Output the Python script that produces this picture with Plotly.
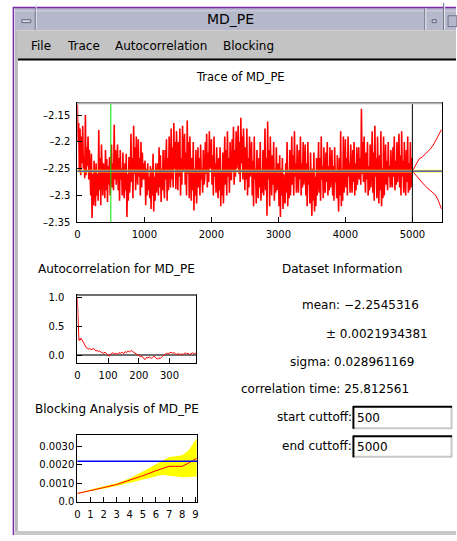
import plotly.graph_objects as go

W, H = 457, 541

# ---------------- data ----------------
dataset_name = "MD_PE"
mean_val = -2.2545316
err_val = 0.0021934381
sigma_val = 0.028961169
corr_time = 25.812561
start_cutoff = 500
end_cutoff = 5000

trace_step = 10
trace_values = [
    -2.130, -2.200, -2.165, -2.255, -2.175, -2.262, -2.190, -2.240, -2.170, -2.250,
    -2.230, -2.268, -2.150, -2.262, -2.210, -2.245, -2.190, -2.270, -2.215, -2.250,
    -2.300, -2.222, -2.342, -2.260, -2.318, -2.235, -2.290, -2.320, -2.240, -2.300,
    -2.260, -2.310, -2.178, -2.290, -2.230, -2.318, -2.205, -2.270, -2.300, -2.240,
    -2.250, -2.305, -2.215, -2.290, -2.232, -2.312, -2.245, -2.280, -2.228, -2.300,
    -2.260, -2.205, -2.285, -2.240, -2.290, -2.168, -2.270, -2.215, -2.280, -2.250,
    -2.205, -2.290, -2.230, -2.310, -2.215, -2.270, -2.250, -2.300, -2.220, -2.285,
    -2.305, -2.240, -2.290, -2.222, -2.340, -2.260, -2.310, -2.228, -2.295, -2.270,
    -2.185, -2.275, -2.230, -2.305, -2.170, -2.260, -2.210, -2.290, -2.190, -2.250,
    -2.280, -2.195, -2.265, -2.230, -2.300, -2.200, -2.285, -2.220, -2.270, -2.240,
    -2.270, -2.235, -2.318, -2.250, -2.300, -2.240, -2.290, -2.265, -2.305, -2.245,
    -2.325, -2.250, -2.300, -2.222, -2.330, -2.265, -2.310, -2.240, -2.295, -2.270,
    -2.240, -2.300, -2.210, -2.285, -2.225, -2.312, -2.250, -2.290, -2.215, -2.280,
    -2.305, -2.215, -2.270, -2.195, -2.310, -2.230, -2.290, -2.190, -2.260, -2.285,
    -2.175, -2.270, -2.210, -2.285, -2.165, -2.250, -2.200, -2.288, -2.180, -2.240,
    -2.290, -2.200, -2.265, -2.175, -2.300, -2.230, -2.280, -2.170, -2.255, -2.220,
    -2.185, -2.280, -2.220, -2.300, -2.160, -2.260, -2.200, -2.305, -2.190, -2.250,
    -2.310, -2.230, -2.290, -2.200, -2.328, -2.250, -2.300, -2.215, -2.315, -2.260,
    -2.210, -2.285, -2.230, -2.300, -2.205, -2.270, -2.250, -2.295, -2.215, -2.280,
    -2.270, -2.200, -2.260, -2.185, -2.285, -2.220, -2.275, -2.180, -2.250, -2.230,
    -2.195, -2.280, -2.225, -2.300, -2.190, -2.265, -2.240, -2.295, -2.210, -2.270,
    -2.305, -2.230, -2.290, -2.210, -2.320, -2.255, -2.300, -2.220, -2.315, -2.260,
    -2.190, -2.280, -2.215, -2.300, -2.180, -2.265, -2.230, -2.295, -2.200, -2.270,
    -2.270, -2.195, -2.255, -2.172, -2.280, -2.215, -2.265, -2.180, -2.250, -2.225,
    -2.170, -2.260, -2.200, -2.275, -2.155, -2.240, -2.190, -2.270, -2.175, -2.230,
    -2.290, -2.210, -2.270, -2.175, -2.300, -2.230, -2.285, -2.190, -2.265, -2.240,
    -2.200, -2.300, -2.235, -2.320, -2.190, -2.270, -2.250, -2.315, -2.215, -2.285,
    -2.305, -2.230, -2.285, -2.200, -2.310, -2.255, -2.295, -2.215, -2.300, -2.260,
    -2.175, -2.290, -2.230, -2.338, -2.162, -2.270, -2.215, -2.320, -2.190, -2.260,
    -2.300, -2.225, -2.280, -2.200, -2.310, -2.250, -2.295, -2.210, -2.290, -2.245,
    -2.240, -2.320, -2.225, -2.340, -2.250, -2.300, -2.230, -2.325, -2.260, -2.305,
    -2.315, -2.240, -2.295, -2.200, -2.320, -2.255, -2.305, -2.215, -2.300, -2.260,
    -2.190, -2.280, -2.225, -2.300, -2.180, -2.265, -2.240, -2.295, -2.205, -2.270,
    -2.295, -2.215, -2.270, -2.190, -2.300, -2.240, -2.285, -2.200, -2.280, -2.245,
    -2.205, -2.300, -2.240, -2.320, -2.200, -2.280, -2.255, -2.315, -2.220, -2.290,
    -2.338, -2.250, -2.310, -2.220, -2.330, -2.265, -2.320, -2.230, -2.300, -2.270,
    -2.200, -2.295, -2.230, -2.310, -2.190, -2.270, -2.245, -2.305, -2.210, -2.280,
    -2.295, -2.220, -2.275, -2.200, -2.300, -2.245, -2.290, -2.210, -2.285, -2.250,
    -2.215, -2.300, -2.245, -2.310, -2.210, -2.275, -2.255, -2.305, -2.225, -2.290,
    -2.330, -2.230, -2.300, -2.180, -2.320, -2.250, -2.310, -2.190, -2.295, -2.260,
    -2.195, -2.285, -2.230, -2.300, -2.190, -2.265, -2.240, -2.295, -2.205, -2.270,
    -2.295, -2.215, -2.275, -2.200, -2.300, -2.240, -2.290, -2.210, -2.280, -2.250,
    -2.210, -2.270, -2.230, -2.280, -2.138, -2.260, -2.200, -2.275, -2.190, -2.250,
    -2.295, -2.220, -2.270, -2.200, -2.300, -2.245, -2.290, -2.205, -2.285, -2.250,
    -2.180, -2.295, -2.220, -2.310, -2.170, -2.265, -2.230, -2.305, -2.190, -2.270,
    -2.315, -2.225, -2.290, -2.180, -2.320, -2.250, -2.305, -2.190, -2.300, -2.255,
    -2.205, -2.280, -2.235, -2.290, -2.200, -2.265, -2.245, -2.285, -2.215, -2.270,
    -2.285, -2.210, -2.265, -2.190, -2.290, -2.235, -2.280, -2.200, -2.275, -2.240,
    -2.185, -2.285, -2.225, -2.300, -2.180, -2.265, -2.235, -2.295, -2.200, -2.270,
    -2.300, -2.215, -2.275, -2.190, -2.295, -2.240, -2.290, -2.200, -2.285, -2.235,
    -2.230,
]
trace_x = [i * trace_step for i in range(len(trace_values))]

funnel_upper_x = [5000, 5010, 5074, 5099, 5148, 5207, 5271, 5320, 5370, 5404, 5434]
funnel_upper_y = [-2.2545, -2.252, -2.238, -2.232, -2.228, -2.221, -2.213, -2.204, -2.192, -2.186, -2.177]
funnel_lower_x = [5000, 5010, 5074, 5123, 5197, 5271, 5345, 5385, 5434]
funnel_lower_y = [-2.2545, -2.256, -2.266, -2.274, -2.283, -2.291, -2.299, -2.309, -2.325]

acf_lag = [0, 1, 2, 3, 4, 5, 6, 8, 10, 12, 14, 16, 18, 20, 22, 24, 27, 30, 33, 36,
           40, 44, 48, 52, 56, 60, 64, 68, 72, 76, 80, 85, 90, 95, 100, 105, 110, 115,
           120, 125, 130, 135, 140, 145, 150, 155, 160, 165, 170, 175, 180, 185, 190,
           195, 200, 205, 210, 215, 220, 225, 230, 235, 240, 245, 250, 255, 260, 265,
           270, 275, 280, 285, 290, 295, 300, 305, 310, 315, 320, 325, 330, 335, 340,
           345, 350, 355, 360, 365, 370, 375, 380, 385]
acf_val = [1.0, 0.72, 0.55, 0.42, 0.33, 0.27, 0.25, 0.28, 0.26, 0.29, 0.27, 0.25, 0.22, 0.20,
           0.19, 0.16, 0.13, 0.12, 0.12, 0.10, 0.11, 0.10, 0.09, 0.12, 0.10, 0.07, 0.08, 0.06,
           0.07, 0.05, 0.04, 0.03, 0.05, 0.02, 0.0, -0.02, 0.02, 0.04, 0.02, 0.03, 0.01, 0.04,
           0.03, 0.05, 0.02, 0.06, 0.04, 0.07, 0.05, 0.08, 0.06, 0.04, 0.03, 0.01, -0.01,
           -0.03, -0.02, -0.06, -0.08, -0.04, -0.05, -0.03, -0.06, -0.04, -0.02, -0.05,
           -0.07, -0.05, -0.06, -0.03, -0.01, 0.01, 0.03, 0.02, 0.04, 0.05, 0.03, 0.04, 0.02,
           0.01, 0.03, 0.0, 0.02, 0.01, 0.04, 0.02, 0.03, 0.01, 0.02, 0.04, 0.02, 0.03]

blk_x = [0, 1, 2, 3, 4, 5, 6, 6.5, 7, 7.5, 8, 8.5, 9, 9.1]
blk_mean = [0.00044, 0.00062, 0.00076, 0.00093, 0.00115, 0.00141, 0.00168, 0.00180,
            0.00192, 0.00192, 0.00192, 0.00210, 0.00228, 0.00235]
blk_upper = [0.00046, 0.00066, 0.00083, 0.00100, 0.00127, 0.00164, 0.00204, 0.00222,
             0.00242, 0.00247, 0.00252, 0.00280, 0.00330, 0.00344]
blk_lower = [0.00042, 0.00058, 0.00070, 0.00085, 0.00102, 0.00120, 0.00139, 0.00146,
             0.00141, 0.00137, 0.00132, 0.00134, 0.00136, 0.00136]

trace_yticks = [-2.35, -2.3, -2.25, -2.2, -2.15]
trace_yticktext = ["\u20132.35", "\u20132.3", "\u20132.25", "\u20132.2", "\u20132.15"]
trace_xticks = [0, 1000, 2000, 3000, 4000, 5000]
acf_yticks = [0.0, 0.5, 1.0]
acf_yticktext = ["0.0", "0.5", "1.0"]
acf_xticks = [0, 100, 200, 300]
blk_yticks = [0.0, 0.001, 0.002, 0.003]
blk_yticktext = ["0.0", "0.0010", "0.0020", "0.0030"]
blk_xticks = [0, 1, 2, 3, 4, 5, 6, 7, 8, 9]

menu_items = ["File", "Trace", "Autocorrelation", "Blocking"]
menu_x = [30, 67, 115, 224]

# ---------------- helpers ----------------
FONT = "DejaVu Sans"


def X(p):
    return p / W


def Y(p):
    return 1 - p / H


shapes = []
annotations = []


def rect(x0, y0, x1, y1, fill, line_color=None, lw=0):
    shapes.append(dict(type="rect", xref="paper", yref="paper",
                       x0=X(x0), x1=X(x1), y0=Y(y1), y1=Y(y0),
                       fillcolor=fill, line=dict(width=lw, color=line_color or fill),
                       layer="above"))


def line(x0, y0, x1, y1, color, lw=1):
    shapes.append(dict(type="line", xref="paper", yref="paper",
                       x0=X(x0), x1=X(x1), y0=Y(y0), y1=Y(y1),
                       line=dict(width=lw, color=color), layer="above"))


def text(x, y, s, size=12, anchor="left"):
    annotations.append(dict(xref="paper", yref="paper", x=X(x), y=Y(y), text=s,
                            showarrow=False, xanchor=anchor, yanchor="middle",
                            font=dict(family=FONT, size=size, color="black")))


# ---------------- window chrome ----------------
rect(12, 5, 457, 28, "#b5b8ca")          # title bar
line(10, 4.5, 457, 4.5, "#7a2aa6", 1.5)  # purple frame top
line(10.5, 4, 10.5, 541, "#7a2aa6", 1.5)  # purple frame left
line(33.5, 0, 33.5, 28, "#e8e8ee", 1)
line(32.5, 5, 32.5, 28, "#70748a", 1)
line(12, 8, 457, 8, "#d0d2de", 1)
rect(19, 17, 28, 20, "#d8d8e0", "#60647a", 1)  # minimize glyph
line(425.5, 5, 425.5, 28, "#70748a", 1)
line(426.5, 5, 426.5, 28, "#e8e8ee", 1)
rect(433, 17, 437, 20, "#d0d0d8", "#60647a", 1)
line(444.5, 0, 444.5, 28, "#70748a", 1)
line(445.5, 0, 445.5, 28, "#e8e8ee", 1)
rect(449, 13, 458, 24, "#b5b8ca", "#70748a", 1)
text(230, 16.5, dataset_name, size=14, anchor="center")

rect(15, 28, 457, 57, "#c3c3c3")          # menu bar
line(15, 57.5, 457, 57.5, "#000000", 2)
for mx, m in zip(menu_x, menu_items):
    text(mx - 4, 44, m, size=12)

line(13.5, 28, 13.5, 541, "#b8b8b8", 3)   # inner left frame
rect(12, 537, 457, 541, "#c8c8c8")        # bottom frame

# ---------------- titles & info ----------------
text(240, 75, "Trace of " + dataset_name, size=11.5, anchor="center")
text(33, 271, "Autocorrelation for " + dataset_name, size=12)
text(30, 413, "Blocking Analysis of " + dataset_name, size=12)
text(279, 270, "Dataset Information", size=12)
text(300, 307, "mean: " + ("%.7f" % mean_val).replace("-", "\u2212"), size=12)
text(324, 337, "\u00b1 %.10f" % err_val, size=12)
text(288, 365, "sigma: %.9f" % sigma_val, size=12)
text(238, 393, "correlation time: %.6f" % corr_time, size=12)
text(354, 421, "start cuttoff:", size=12, anchor="right")
text(354, 450, "end cuttoff:", size=12, anchor="right")
for (y0, y1, val) in [(410, 433, start_cutoff), (440, 462, end_cutoff)]:
    rect(353, y0, 453, y1, "#ffffff")
    line(353, y1 - 0.5, 453, y1 - 0.5, "#c8c8c8", 2)
    line(452.5, y0, 452.5, y1, "#c8c8c8", 2)
    line(353, y0 + 0.5, 453, y0 + 0.5, "#000000", 2)
    line(353.5, y0, 353.5, y1, "#000000", 2)
    text(355, (y0 + y1) / 2 + 0.5, str(val), size=12)

# ---------------- figure ----------------
fig = go.Figure()
fig.add_trace(go.Scatter(x=trace_x, y=trace_values, mode="lines",
                         line=dict(color="#ff0000", width=1.6), xaxis="x", yaxis="y"))
fig.add_trace(go.Scatter(x=funnel_upper_x, y=funnel_upper_y, mode="lines",
                         line=dict(color="#ff0000", width=1), xaxis="x", yaxis="y"))
fig.add_trace(go.Scatter(x=funnel_lower_x, y=funnel_lower_y, mode="lines",
                         line=dict(color="#ff0000", width=1), xaxis="x", yaxis="y"))

fig.add_trace(go.Scatter(x=acf_lag, y=acf_val, mode="lines",
                         line=dict(color="#ff0000", width=1), xaxis="x2", yaxis="y2"))

fig.add_trace(go.Scatter(x=blk_x, y=blk_lower, mode="lines", line=dict(width=0, color="#ffff00"),
                         xaxis="x3", yaxis="y3"))
fig.add_trace(go.Scatter(x=blk_x, y=blk_upper, mode="lines", line=dict(width=0, color="#ffff00"),
                         fill="tonexty", fillcolor="#ffff00", xaxis="x3", yaxis="y3"))
fig.add_trace(go.Scatter(x=blk_x, y=blk_mean, mode="lines",
                         line=dict(color="#ff0000", width=1), xaxis="x3", yaxis="y3"))

# in-plot shapes
shapes.append(dict(type="rect", xref="x domain", yref="y", x0=0, x1=1,
                   y0=mean_val - 1.2 * err_val, y1=mean_val + 1.2 * err_val,
                   fillcolor="#ffff00", line=dict(width=0), layer="above", opacity=0.85))
shapes.append(dict(type="line", xref="x domain", yref="y", x0=0, x1=1,
                   y0=mean_val, y1=mean_val, line=dict(color="#0000ff", width=1), layer="above"))
shapes.append(dict(type="line", xref="x", yref="y domain", x0=start_cutoff, x1=start_cutoff,
                   y0=0, y1=1, line=dict(color="#00e000", width=1), layer="above"))
shapes.append(dict(type="line", xref="x", yref="y domain", x0=end_cutoff, x1=end_cutoff,
                   y0=0, y1=1, line=dict(color="#000000", width=1), layer="above"))
shapes.append(dict(type="line", xref="x domain", yref="y domain", x0=0, x1=1, y0=1, y1=1,
                   line=dict(color="#b0b0b0", width=2), layer="above"))
shapes.append(dict(type="line", xref="x2 domain", yref="y2 domain", x0=0, x1=1, y0=1, y1=1,
                   line=dict(color="#707070", width=2), layer="above"))
shapes.append(dict(type="line", xref="x3 domain", yref="y3", x0=0, x1=1,
                   y0=err_val, y1=err_val, line=dict(color="#0000ff", width=1.5), layer="above"))


def axis(domain, rng, tickvals, ticktext=None, anchor=None, standoff=None, **kw):
    d = dict(domain=domain, range=rng, tickvals=tickvals, ticks="inside", ticklen=5,
             tickcolor="black", tickwidth=1, showline=True, mirror=True, linecolor="black",
             linewidth=1, showgrid=False, zeroline=False, fixedrange=True, anchor=anchor,
             tickfont=dict(family=FONT, size=10, color="black"))
    if ticktext is not None:
        d["ticktext"] = ticktext
    if standoff is not None:
        d["ticklabelstandoff"] = standoff
    d.update(kw)
    return d


fig.update_layout(
    width=W, height=H, margin=dict(l=0, r=0, t=0, b=0),
    paper_bgcolor="white", plot_bgcolor="white", showlegend=False,
    xaxis=axis([X(75), X(443)], [0, 5444], trace_xticks, anchor="y", standoff=3),
    yaxis=axis([Y(223), Y(102)], [-2.35, -2.128], trace_yticks, trace_yticktext,
               anchor="x", standoff=4),
    xaxis2=axis([X(75), X(195)], [0, 387], acf_xticks, anchor="y2", standoff=3),
    yaxis2=axis([Y(366), Y(297)], [-0.136, 1.034], acf_yticks, acf_yticktext,
                anchor="x2", standoff=10, zeroline=True, zerolinecolor="#707070",
                zerolinewidth=2),
    xaxis3=axis([X(75), X(196)], [0, 9.15], blk_xticks, anchor="y3", standoff=3),
    yaxis3=axis([Y(507), Y(439)], [0, 0.00364], blk_yticks, blk_yticktext,
                anchor="x3", standoff=0),
    shapes=shapes, annotations=annotations,
)

fig.write_html("out.html")
